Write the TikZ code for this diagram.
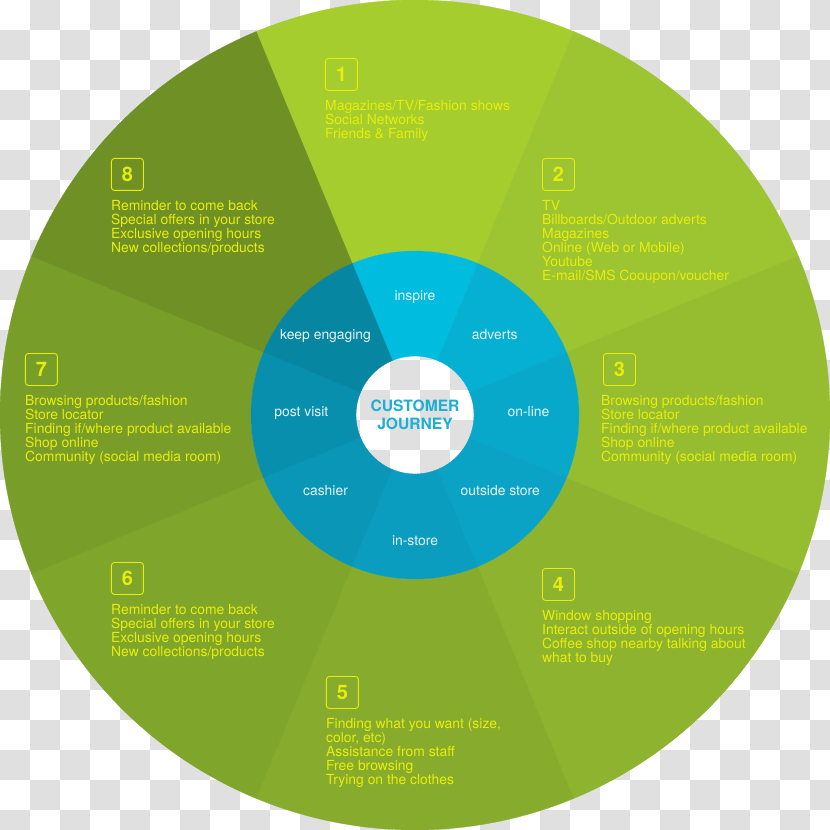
\documentclass[tikz,border=0pt]{standalone}
\usepackage{fontspec}
\setmainfont{TeX Gyre Heros}
\usetikzlibrary{positioning}
\definecolor{checkgray}{RGB}{224,224,224}
\definecolor{txtyellow}{RGB}{232,237,12}
\definecolor{stagewhite}{RGB}{230,245,249}
\definecolor{cjblue}{RGB}{28,174,214}
% outer ring greens, step 1 to 8
\definecolor{gA}{RGB}{165,205,45}
\definecolor{gB}{RGB}{157,196,49}
\definecolor{gC}{RGB}{150,188,48}
\definecolor{gD}{RGB}{142,180,47}
\definecolor{gE}{RGB}{135,172,45}
\definecolor{gF}{RGB}{128,165,43}
\definecolor{gG}{RGB}{121,157,41}
\definecolor{gH}{RGB}{110,144,37}
% inner ring blues
\definecolor{cA}{RGB}{0,188,222}
\definecolor{cB}{RGB}{6,176,210}
\definecolor{cC}{RGB}{8,168,202}
\definecolor{cD}{RGB}{10,163,197}
\definecolor{cE}{RGB}{10,157,191}
\definecolor{cF}{RGB}{10,151,183}
\definecolor{cG}{RGB}{8,143,173}
\definecolor{cH}{RGB}{6,134,160}

\begin{document}
\begin{tikzpicture}[
    x=1pt, y=1pt,
    numbox/.style={
      draw=txtyellow, line width=0.9pt, rounded corners=3pt,
      minimum width=32pt, minimum height=32pt, inner sep=0pt,
      text=txtyellow, font=\fontsize{20}{20}\selectfont\bfseries,
      anchor=north west
    },
    items/.style={
      text=txtyellow, align=left, inner sep=0pt,
      font=\fontsize{13.9}{13.95}\selectfont
    },
    stage/.style={
      text=stagewhite, inner sep=0pt, text height=7.3pt, text depth=0pt,
      font=\fontsize{13.9}{14}\selectfont
    },
    hub/.style={
      text=cjblue, align=center, inner sep=0pt,
      font=\fontsize{15.6}{17.6}\selectfont\bfseries
    },
  ]

  \useasboundingbox (-415,-415) rectangle (415,415);

  % --- Checkered background ---
  \begin{scope}
    \clip (-415,-415) rectangle (415,415);
    \fill[white] (-415,-415) rectangle (415,415);
    \foreach \i in {0,...,27}
      \foreach \j in {0,...,27} {
        \ifodd\numexpr\i+\j\relax
          \fill[checkgray] (30*\i-415, 415-30*\j) rectangle ++(30,-30);
        \fi
      }
  \end{scope}

  % --- Rings (outer green, inner blue) ---
  \foreach \k/\outc/\inc in {1/gA/cA, 2/gB/cB, 3/gC/cC, 4/gD/cD,
                             5/gE/cE, 6/gF/cF, 7/gG/cG, 8/gH/cH} {
    \pgfmathsetmacro\sa{67.5-45*(\k-1)}
    \pgfmathsetmacro\ea{\sa+45}
    \filldraw[fill=\outc, draw=\outc, line width=0.3pt]
      (\sa:164) arc[start angle=\sa, end angle=\ea, radius=164]
      -- (\ea:415) arc[start angle=\ea, end angle=\sa, radius=415] -- cycle;
    \filldraw[fill=\inc, draw=\inc, line width=0.3pt]
      (\sa:59) arc[start angle=\sa, end angle=\ea, radius=59]
      -- (\ea:164) arc[start angle=\ea, end angle=\sa, radius=164] -- cycle;
  }

  % --- Hub ---
  \node[hub] (cj) at (0,0) {CUSTOMER\\JOURNEY};

  % --- Inner ring labels ---
  \node[stage] (s1) at (0,117.7) {inspire};
  \node[stage] (s2) at (79.8,79.3) {adverts};
  \node[stage] (s3) at (113.5,1.7) {on-line};
  \node[stage] (s4) at (85.3,-77.3) {outside store};
  \node[stage] (s5) at (0,-126.7) {in-store};
  \node[stage] (s6) at (-89.5,-77.3) {cashier};
  \node[stage] (s7) at (-113.7,1.7) {post visit};
  \node[stage] (s8) at (-89.5,79.3) {keep engaging};

  % --- Numbered boxes ---
  \node[numbox] (b1) at (-90,357) {1};
  \node[numbox] (b2) at (127,257) {2};
  \node[numbox] (b3) at (188,62) {3};
  \node[numbox] (b4) at (127,-153) {4};
  \node[numbox] (b5) at (-89,-261) {5};
  \node[numbox] (b6) at (-304,-147) {6};
  \node[numbox] (b7) at (-390,62) {7};
  \node[numbox] (b8) at (-304,257) {8};

  % --- Touchpoint lists ---
  \node[items, below=9.5pt of b1.south west, anchor=north west] (t1)
    {Magazines/TV/Fashion shows\\Social Networks\\Friends \& Family};
  \node[items, below=9.5pt of b2.south west, anchor=north west] (t2)
    {TV\\Billboards/Outdoor adverts\\Magazines\\Online (Web or Mobile)\\
     Youtube\\E-mail/SMS Cooupon/voucher};
  \node[items, below=9.5pt of b3.south west, anchor=north west,
        xshift=-2pt] (t3)
    {Browsing products/fashion\\Store locator\\
     Finding if/where product available\\Shop online\\
     Community (social media room)};
  \node[items, below=9.5pt of b4.south west, anchor=north west] (t4)
    {Window shopping\\Interact outside of opening hours\\
     Coffee shop nearby talking about\\what to buy};
  \node[items, below=9.5pt of b5.south west, anchor=north west] (t5)
    {Finding what you want (size,\\color, etc)\\Assistance from staff\\
     Free browsing\\Trying on the clothes};
  \node[items, below=9.5pt of b6.south west, anchor=north west] (t6)
    {Reminder to come back\\Special offers in your store\\
     Exclusive opening hours\\New collections/products};
  \node[items, below=9.5pt of b7.south west, anchor=north west] (t7)
    {Browsing products/fashion\\Store locator\\
     Finding if/where product available\\Shop online\\
     Community (social media room)};
  \node[items, below=9.5pt of b8.south west, anchor=north west] (t8)
    {Reminder to come back\\Special offers in your store\\
     Exclusive opening hours\\New collections/products};

\end{tikzpicture}
\end{document}
